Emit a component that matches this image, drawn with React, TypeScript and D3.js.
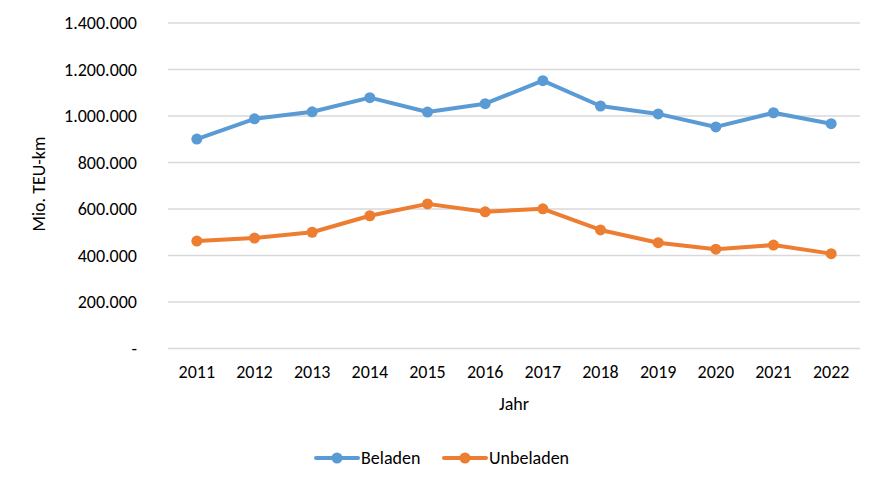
import React from "react";
import * as d3 from "d3";

const years = ["2011","2012","2013","2014","2015","2016","2017","2018","2019","2020","2021","2022"];
const beladen = [901000, 988000, 1018000, 1079000, 1017000, 1053000, 1152000, 1043000, 1009000, 953000, 1014000, 967000];
const unbeladen = [462000, 475000, 500000, 571000, 622000, 588000, 601000, 510000, 455000, 427000, 445000, 408000];
const yTicks = [0, 200000, 400000, 600000, 800000, 1000000, 1200000, 1400000];
const seriesNames = ["Beladen", "Unbeladen"];
const colors = ["#5B9BD5", "#ED7D31"];

const W = 883, H = 489;
const left = 168, right = 860, top = 23, bottom = 348.5;
const font = "Calibri, Carlito, Lato, 'Open Sans', sans-serif";
const fs = 18;

function fmt(v: number) {
  if (v === 0) return "-";
  return d3.format(",")(v).replace(/,/g, ".");
}

export default function App() {
  const x = d3.scaleBand<string>().domain(years).range([left, right]);
  const y = d3.scaleLinear().domain([0, 1400000]).range([bottom, top]);
  const line = d3.line<number>().x((_, i) => (x(years[i]) as number) + x.bandwidth() / 2).y(d => y(d));
  const data = [beladen, unbeladen];
  const legendX = [316, 444];

  return (
    <svg width={W} height={H} style={{ position: "absolute", left: 0, top: 0, background: "#fff" }} fontFamily={font}>
      <rect x={0} y={0} width={W} height={H} fill="#fff" />
      {yTicks.map(t => (
        <g key={t}>
          <line x1={left} x2={right} y1={y(t)} y2={y(t)} stroke="#D9D9D9" strokeWidth={1.3} />
          <text x={137} y={y(t)} dy="0.35em" textAnchor="end" fontSize={fs} fill="#000">{fmt(t)}</text>
        </g>
      ))}
      {years.map(yr => (
        <text key={yr} x={(x(yr) as number) + x.bandwidth() / 2} y={372} dy="0.35em" textAnchor="middle" fontSize={fs} fill="#000">{yr}</text>
      ))}
      <text x={514} y={404} dy="0.35em" textAnchor="middle" fontSize={fs} fill="#000">Jahr</text>
      <text transform={`translate(39,184) rotate(-90)`} textAnchor="middle" dy="0.35em" fontSize={fs} fill="#000">Mio. TEU-km</text>
      {data.map((s, k) => (
        <g key={k}>
          <path d={line(s) || ""} fill="none" stroke={colors[k]} strokeWidth={4} strokeLinejoin="round" strokeLinecap="round" />
          {s.map((v, i) => (
            <circle key={i} cx={(x(years[i]) as number) + x.bandwidth() / 2} cy={y(v)} r={5.5} fill={colors[k]} />
          ))}
        </g>
      ))}
      {seriesNames.map((n, k) => (
        <g key={n}>
          <line x1={legendX[k]} x2={legendX[k] + 42} y1={458} y2={458} stroke={colors[k]} strokeWidth={4} strokeLinecap="round" />
          <circle cx={legendX[k] + 21} cy={458} r={5.5} fill={colors[k]} />
          <text x={legendX[k] + 45} y={458} dy="0.35em" fontSize={fs} fill="#000">{n}</text>
        </g>
      ))}
    </svg>
  );
}
